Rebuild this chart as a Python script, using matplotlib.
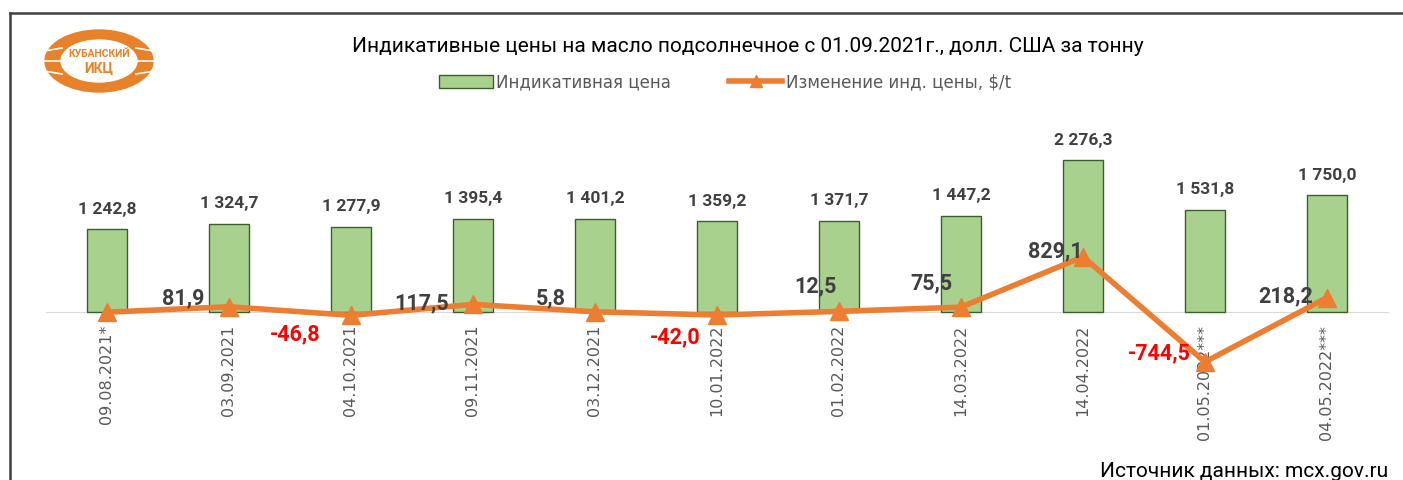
# Индикативные цены на масло подсолнечное - bars + change line

import matplotlib.pyplot as plt
from matplotlib.patches import Ellipse, Patch
from matplotlib.lines import Line2D

dates = ["09.08.2021*", "03.09.2021", "04.10.2021", "09.11.2021", "03.12.2021",
         "10.01.2022", "01.02.2022", "14.03.2022", "14.04.2022",
         "01.05.2022***", "04.05.2022***"]
prices = [1242.8, 1324.7, 1277.9, 1395.4, 1401.2, 1359.2, 1371.7, 1447.2,
          2276.3, 1531.8, 1750.0]
changes = [0.0, 81.9, -46.8, 117.5, 5.8, -42.0, 12.5, 75.5, 829.1, -744.5, 218.2]

# label offsets (points) for the change labels, first point has no label
change_offsets = [None, (-33, 6), (-40, -14), (-37, 1), (-32, 10), (-30, -16),
                  (-17, 18), (-21, 17), (-20, 4), (-33, 6), (-30, 1)]

GREEN = "#A9D18E"
GREEN_EDGE = "#3B5E2B"
ORANGE = "#ED7D31"
DARK = "#404040"
GRAY = "#595959"
LABEL_FONT = ["Roboto", "DejaVu Sans"]


def fmt(v):
    s = f"{abs(v):,.1f}".replace(",", " ").replace(".", ",")
    return ("-" if v < 0 else "") + s


W, H = 1403, 480
fig = plt.figure(figsize=(W / 100, H / 100), dpi=100)
fig.patch.set_facecolor("white")

ax = fig.add_axes([46 / W, 1 - 379 / H, 1342 / W, 240.5 / H])
x = list(range(len(dates)))

ax.bar(x, prices, width=0.33, color=GREEN, edgecolor=GREEN_EDGE, linewidth=1, zorder=2)
ax.plot(x, changes, color=ORANGE, lw=4, marker="^", markersize=13,
        markeredgecolor=ORANGE, zorder=3)

ax.set_xlim(-0.5, len(dates) - 0.5)
ax.set_ylim(-1000, 2600)

for s in ["top", "right", "left"]:
    ax.spines[s].set_visible(False)
ax.spines["bottom"].set_position(("data", 0))
ax.spines["bottom"].set_color("#D9D9D9")
ax.spines["bottom"].set_zorder(1)
ax.set_yticks([])
ax.set_xticks(x)
ax.set_xticklabels(dates, rotation=90, color=GRAY, fontsize=11.5, va="top")
ax.tick_params(axis="x", length=0, pad=9)

for xi, p in zip(x, prices):
    ax.annotate(fmt(p), (xi, p), xytext=(0, 9), textcoords="offset points",
                ha="center", va="bottom", fontsize=12.5, fontweight="bold",
                color=DARK, family=LABEL_FONT)

for xi, c, off in zip(x, changes, change_offsets):
    if off is None:
        continue
    ax.annotate(fmt(c), (xi, c), xytext=off, textcoords="offset points",
                ha="center", va="center", fontsize=15.5, fontweight="bold",
                color="#FF0000" if c < 0 else DARK, family=LABEL_FONT, zorder=4)

# title and legend
fig.text(748 / W, 1 - 47 / H,
         "Индикативные цены на масло подсолнечное с 01.09.2021г., долл. США за тонну",
         ha="center", va="center", fontsize=15, color="black", family=LABEL_FONT)
handles = [Patch(facecolor=GREEN, edgecolor=GREEN_EDGE, linewidth=1),
           Line2D([0], [0], color=ORANGE, lw=4, marker="^", markersize=9)]
fig.legend(handles, ["Индикативная цена", "Изменение инд. цены, $/t"],
           loc="center", bbox_to_anchor=(725 / W, 1 - 82 / H), ncol=2,
           frameon=False, handlelength=3.2, handleheight=0.8, handletextpad=0.2,
           columnspacing=3.5, prop={"family": "DejaVu Sans", "size": 12},
           labelcolor=GRAY)

fig.text(1388 / W, 1 - 462 / H, "Источник данных: mcx.gov.ru", ha="right", va="top",
         fontsize=15, color="black", family=LABEL_FONT)

# logo
lax = fig.add_axes([40 / W, 1 - 96 / H, 118 / W, 70 / H])
lax.set_xlim(0, 118)
lax.set_ylim(0, 70)
lax.axis("off")
lax.add_patch(Ellipse((59, 35), 108, 62, color="#E8822A"))
lax.add_patch(Ellipse((59, 35), 76, 42, color="white"))
for yy in [16, 25, 35, 45, 54]:
    lax.plot([4, 22], [yy, yy + (yy - 35) * 0.3], color="white", lw=1.2)
    lax.plot([96, 114], [yy + (yy - 35) * 0.3, yy], color="white", lw=1.2)
lax.text(59, 42, "КУБАНСКИЙ", ha="center", va="center", fontsize=7.5,
         fontweight="bold", color="#E8822A", family=LABEL_FONT)
lax.text(59, 27, "ИКЦ", ha="center", va="center", fontsize=10,
         fontweight="bold", color="#E8822A", family=LABEL_FONT)

# frame around the picture (left and top edges only visible)
fig.add_artist(Line2D([10 / W, 10 / W], [0, 1 - 13 / H], color="#404040", lw=1.8,
                      transform=fig.transFigure))
fig.add_artist(Line2D([10 / W, 1], [1 - 13 / H, 1 - 13 / H], color="#404040", lw=1.8,
                      transform=fig.transFigure))

fig.savefig("out.png", dpi=100)
